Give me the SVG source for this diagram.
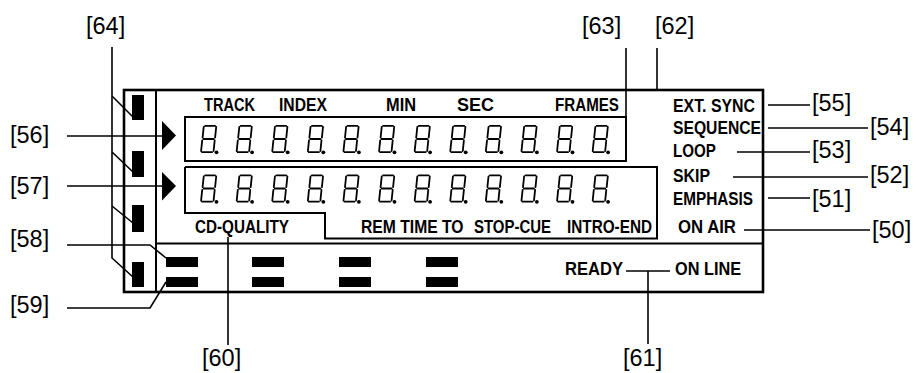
<svg xmlns="http://www.w3.org/2000/svg" xmlns:xlink="http://www.w3.org/1999/xlink" width="918" height="373" viewBox="0 0 918 373">
<style>
.frame{fill:none;stroke:#000;stroke-width:2.6}
.box{fill:none;stroke:#000;stroke-width:2}
.ldr{fill:none;stroke:#000;stroke-width:1.6}
.lbl{font-family:"Liberation Sans",Arial,sans-serif;font-size:23.5px;fill:#000}
.cap{font-family:"Liberation Sans",Arial,sans-serif;font-size:19px;font-weight:bold;fill:#000}
.seg{fill:none;stroke:#000;stroke-width:1.8;stroke-linecap:round}
.fill{fill:#000}
</style>
<defs>
<g id="dig">
<path class="seg" d="M4.4 0.9H14.3M3 2L1.9 12.6M15.5 2L14.4 12.6M2.9 14H12.9M1.5 15.4L0.4 26M14 15.4L12.9 26M1.4 27.2H11.3"/>
<circle cx="15.8" cy="27.3" r="1.9" class="fill"/>
</g>
</defs>
<rect width="918" height="373" fill="#fff"/>

<g id="display">
<rect class="frame" x="124" y="90" width="639" height="202"/>
<line class="box" x1="156" y1="90" x2="156" y2="292"/>
<line class="box" x1="156" y1="243.5" x2="763" y2="243.5"/>
</g>

<g id="leds">
<rect class="fill" x="132" y="95" width="12" height="25"/>
<rect class="fill" x="132" y="151" width="12" height="26"/>
<rect class="fill" x="132" y="205" width="12" height="27"/>
<rect class="fill" x="132" y="262" width="12" height="25"/>
</g>

<g id="row1">
<polygon class="fill" points="162,121 162,150 176,135.5"/>
<rect class="box" x="185" y="117" width="441" height="44"/>
<use xlink:href="#dig" x="200.7" y="125"/>
<use xlink:href="#dig" x="236.3" y="125"/>
<use xlink:href="#dig" x="271.9" y="125"/>
<use xlink:href="#dig" x="307.5" y="125"/>
<use xlink:href="#dig" x="343.1" y="125"/>
<use xlink:href="#dig" x="378.7" y="125"/>
<use xlink:href="#dig" x="414.3" y="125"/>
<use xlink:href="#dig" x="449.9" y="125"/>
<use xlink:href="#dig" x="485.5" y="125"/>
<use xlink:href="#dig" x="521.1" y="125"/>
<use xlink:href="#dig" x="556.7" y="125"/>
<use xlink:href="#dig" x="592.3" y="125"/>
<text class="cap" transform="translate(204,111) scale(0.82,1)" textLength="62.2" lengthAdjust="spacingAndGlyphs">TRACK</text>
<text class="cap" transform="translate(279,111) scale(0.82,1)" textLength="58.5" lengthAdjust="spacingAndGlyphs">INDEX</text>
<text class="cap" transform="translate(386,111) scale(0.82,1)" textLength="36.6" lengthAdjust="spacingAndGlyphs">MIN</text>
<text class="cap" transform="translate(457,111) scale(0.82,1)" textLength="45.1" lengthAdjust="spacingAndGlyphs">SEC</text>
<text class="cap" transform="translate(555,111) scale(0.82,1)" textLength="78" lengthAdjust="spacingAndGlyphs">FRAMES</text>
</g>

<g id="row2">
<polygon class="fill" points="162,172 162,200.5 176,186"/>
<polyline class="box" points="185,167 657,167 657,238.5 325,238.5 325,213 185,213 185,167"/>
<use xlink:href="#dig" x="200.7" y="174.5"/>
<use xlink:href="#dig" x="236.3" y="174.5"/>
<use xlink:href="#dig" x="271.9" y="174.5"/>
<use xlink:href="#dig" x="307.5" y="174.5"/>
<use xlink:href="#dig" x="343.1" y="174.5"/>
<use xlink:href="#dig" x="378.7" y="174.5"/>
<use xlink:href="#dig" x="414.3" y="174.5"/>
<use xlink:href="#dig" x="449.9" y="174.5"/>
<use xlink:href="#dig" x="485.5" y="174.5"/>
<use xlink:href="#dig" x="521.1" y="174.5"/>
<use xlink:href="#dig" x="556.7" y="174.5"/>
<use xlink:href="#dig" x="592.3" y="174.5"/>
<text class="cap" transform="translate(195,233) scale(0.82,1)" textLength="114.6" lengthAdjust="spacingAndGlyphs">CD-QUALITY</text>
<text class="cap" transform="translate(361,233) scale(0.82,1)" textLength="125" lengthAdjust="spacingAndGlyphs">REM TIME TO</text>
<text class="cap" transform="translate(474,233) scale(0.82,1)" textLength="94" lengthAdjust="spacingAndGlyphs">STOP-CUE</text>
<text class="cap" transform="translate(567,233) scale(0.82,1)" textLength="103.7" lengthAdjust="spacingAndGlyphs">INTRO-END</text>
</g>

<g id="bars">
<rect class="fill" x="166" y="257" width="32" height="10"/>
<rect class="fill" x="166" y="277" width="32" height="10"/>
<rect class="fill" x="252" y="257" width="32" height="10"/>
<rect class="fill" x="252" y="277" width="32" height="10"/>
<rect class="fill" x="339" y="257" width="32" height="10"/>
<rect class="fill" x="339" y="277" width="32" height="10"/>
<rect class="fill" x="426" y="257" width="32" height="10"/>
<rect class="fill" x="426" y="277" width="32" height="10"/>
</g>

<g id="status">
<text class="cap" transform="translate(673,112) scale(0.82,1)" textLength="100" lengthAdjust="spacingAndGlyphs">EXT. SYNC</text>
<text class="cap" transform="translate(673,134) scale(0.82,1)" textLength="107.3" lengthAdjust="spacingAndGlyphs">SEQUENCE</text>
<text class="cap" transform="translate(673,157) scale(0.82,1)" textLength="52.4" lengthAdjust="spacingAndGlyphs">LOOP</text>
<text class="cap" transform="translate(673,182) scale(0.82,1)" textLength="45.1" lengthAdjust="spacingAndGlyphs">SKIP</text>
<text class="cap" transform="translate(673,205) scale(0.82,1)" textLength="97.6" lengthAdjust="spacingAndGlyphs">EMPHASIS</text>
<text class="cap" transform="translate(678,233) scale(0.82,1)" textLength="70.7" lengthAdjust="spacingAndGlyphs">ON AIR</text>
<text class="cap" transform="translate(565,275) scale(0.82,1)" textLength="70.7" lengthAdjust="spacingAndGlyphs">READY</text>
<text class="cap" transform="translate(675,275) scale(0.82,1)" textLength="80.5" lengthAdjust="spacingAndGlyphs">ON LINE</text>
</g>

<g id="connectors">
<polyline class="ldr" points="112,47 112,258 133,277"/>
<line class="ldr" x1="112" y1="96" x2="133" y2="117"/>
<line class="ldr" x1="112" y1="152" x2="133" y2="172"/>
<line class="ldr" x1="112" y1="206" x2="133" y2="223"/>
<line class="ldr" x1="67" y1="136" x2="162" y2="136"/>
<line class="ldr" x1="67" y1="186" x2="162" y2="186"/>
<polyline class="ldr" points="67,245 150,245 166,258"/>
<polyline class="ldr" points="67,308 150,308 166,282"/>
<line class="ldr" x1="228" y1="237" x2="228" y2="345"/>
<line class="ldr" x1="626" y1="48" x2="626" y2="117"/>
<line class="ldr" x1="657" y1="48" x2="657" y2="90"/>
<line class="ldr" x1="626" y1="271" x2="670" y2="271"/>
<line class="ldr" x1="648" y1="271" x2="648" y2="344"/>
<line class="ldr" x1="768" y1="105" x2="810" y2="105"/>
<line class="ldr" x1="768" y1="128" x2="868" y2="128"/>
<line class="ldr" x1="737" y1="152" x2="810" y2="152"/>
<line class="ldr" x1="733" y1="177" x2="868" y2="177"/>
<line class="ldr" x1="768" y1="198" x2="810" y2="198"/>
<line class="ldr" x1="744" y1="230" x2="870" y2="230"/>
</g>

<g id="labels">
<text class="lbl" x="86" y="34">[64]</text>
<text class="lbl" x="582" y="34">[63]</text>
<text class="lbl" x="655" y="34">[62]</text>
<text class="lbl" x="10" y="143">[56]</text>
<text class="lbl" x="10" y="194">[57]</text>
<text class="lbl" x="10" y="247">[58]</text>
<text class="lbl" x="10" y="313">[59]</text>
<text class="lbl" x="202" y="366">[60]</text>
<text class="lbl" x="623" y="366">[61]</text>
<text class="lbl" x="812" y="111">[55]</text>
<text class="lbl" x="870" y="135">[54]</text>
<text class="lbl" x="812" y="158">[53]</text>
<text class="lbl" x="870" y="183">[52]</text>
<text class="lbl" x="812" y="207">[51]</text>
<text class="lbl" x="872" y="238">[50]</text>
</g>
</svg>
